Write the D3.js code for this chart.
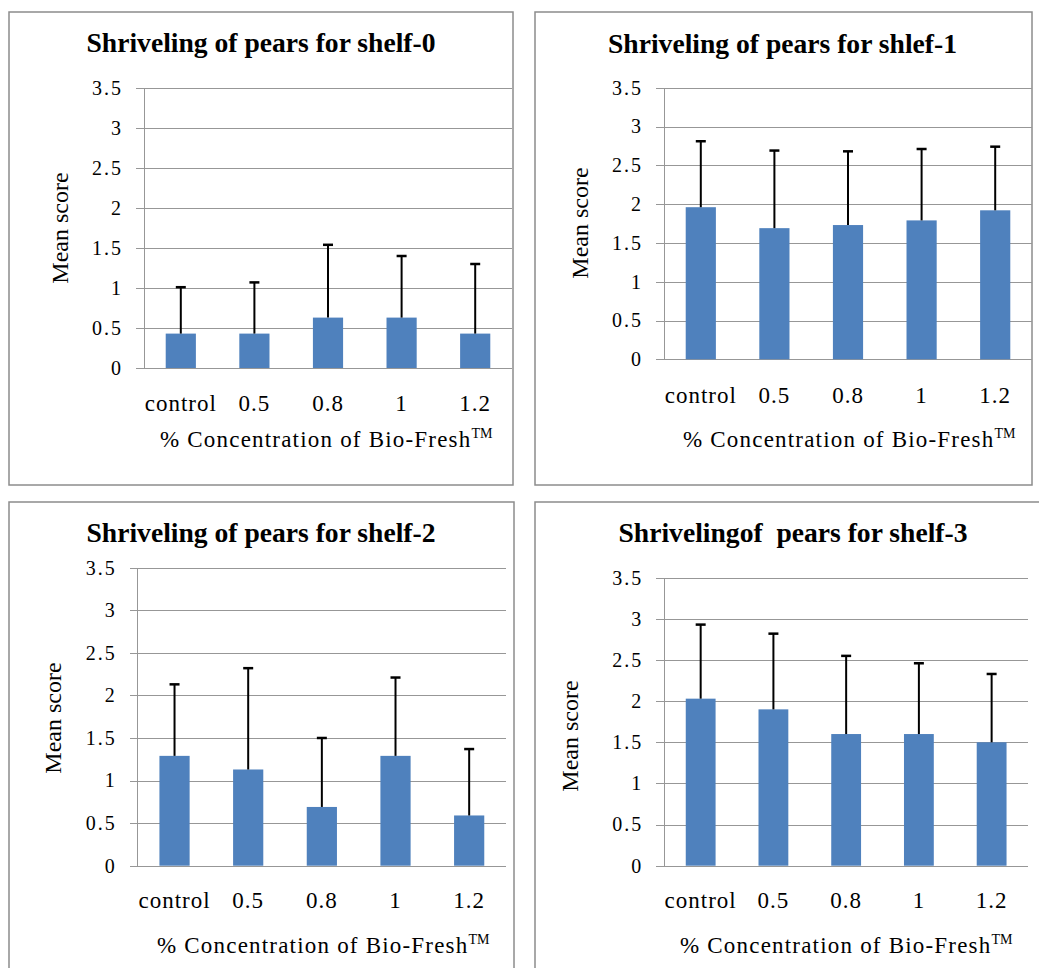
<!DOCTYPE html>
<html>
<head>
<meta charset="utf-8">
<script src="https://cdn.jsdelivr.net/npm/d3@7"></script>
<style>
  html, body { margin: 0; padding: 0; background: #ffffff; }
  svg { display: block; }
</style>
</head>
<body>
<svg id="chart" width="1039" height="968"></svg>
<script>
// ---------------- data ----------------
const categories = ["control", "0.5", "0.8", "1", "1.2"];
const yTickValues = [0, 0.5, 1, 1.5, 2, 2.5, 3, 3.5];
const yTickLabels = ["0", "0.5", "1", "1.5", "2", "2.5", "3", "3.5"];
const titles = [
  "Shriveling of pears for shelf-0",
  "Shriveling of pears for shlef-1",
  "Shriveling of pears for shelf-2",
  "Shrivelingof  pears for shelf-3"
];
const yAxisTitle = "Mean score";
const xAxisTitle = "% Concentration of Bio-Fresh";
const xAxisTitleSup = "TM";

const meanShelf0 = [0.43, 0.43, 0.63, 0.63, 0.43];
const sdShelf0   = [0.58, 0.64, 0.91, 0.77, 0.87];
const meanShelf1 = [1.96, 1.69, 1.73, 1.79, 1.92];
const sdShelf1   = [0.85, 1.00, 0.95, 0.92, 0.82];
const meanShelf2 = [1.29, 1.13, 0.69, 1.29, 0.59];
const sdShelf2   = [0.84, 1.19, 0.81, 0.92, 0.78];
const meanShelf3 = [2.03, 1.90, 1.60, 1.60, 1.50];
const sdShelf3   = [0.90, 0.92, 0.95, 0.86, 0.83];

const means = [meanShelf0, meanShelf1, meanShelf2, meanShelf3];
const sds = [sdShelf0, sdShelf1, sdShelf2, sdShelf3];

// ---------------- layout ----------------
const layouts = [
  { frame: [9, 12, 513, 485],  x0: 144,   x1: 512,  yBot: 368,   yTop: 88,
    titleX: 261, titleY: 52, ylabX: 68, ylabY: 228, xlabY: 411, xtitX: 160, xtitY: 447 },
  { frame: [535, 12, 1032, 485], x0: 664, x1: 1032, yBot: 359.3, yTop: 87.7,
    titleX: 782.5, titleY: 53, ylabX: 588, ylabY: 223, xlabY: 403, xtitX: 683, xtitY: 447 },
  { frame: [9, 502, 514, 1000], x0: 137.7, x1: 506, yBot: 865.7, yTop: 567.7,
    titleX: 261, titleY: 542, ylabX: 61, ylabY: 718, xlabY: 908, xtitX: 157, xtitY: 953 },
  { frame: [535, 502, 1050, 1000], x0: 664.3, x1: 1028, yBot: 865.7, yTop: 577.7,
    titleX: 793, titleY: 542, ylabX: 578, ylabY: 736, xlabY: 908, xtitX: 680, xtitY: 953 }
];

const BAR = "#4F81BD";
const GRID = "#979797";
const FRAME = "#8c8c8c";
const SERIF = "'Liberation Serif', 'Times New Roman', serif";

const svg = d3.select("#chart");

layouts.forEach((L, i) => {
  const g = svg.append("g");

  // frame
  g.append("rect")
    .attr("x", L.frame[0]).attr("y", L.frame[1])
    .attr("width", L.frame[2] - L.frame[0]).attr("height", L.frame[3] - L.frame[1])
    .attr("fill", "#fff").attr("stroke", FRAME).attr("stroke-width", 1.5);

  const x = d3.scaleBand().domain(categories).range([L.x0, L.x1])
    .paddingInner(0.59).paddingOuter(0.295);
  const y = d3.scaleLinear().domain([0, 3.5]).range([L.yBot, L.yTop]);

  // y axis with gridlines
  const w = L.x1 - L.x0;
  const yAxis = d3.axisLeft(y).tickValues(yTickValues)
    .tickFormat((d, k) => yTickLabels[k])
    .tickSizeInner(w + 8).tickSizeOuter(0).tickPadding(13);
  const ya = g.append("g").attr("transform", `translate(${L.x1},0)`).call(yAxis);
  ya.select(".domain").remove();
  ya.selectAll(".tick line").attr("stroke", GRID).attr("stroke-width", 1).attr("shape-rendering", "crispEdges");
  ya.selectAll(".tick text")
    .attr("fill", "#000").style("font-family", SERIF).style("font-size", "20px")
    .style("letter-spacing", "2px");

  // vertical axis line
  g.append("line")
    .attr("x1", L.x0).attr("x2", L.x0).attr("y1", y(0)).attr("y2", y(3.5))
    .attr("stroke", GRID).attr("stroke-width", 1).attr("shape-rendering", "crispEdges");

  // x axis labels
  const xAxis = d3.axisBottom(x).tickSize(0);
  const xa = g.append("g").attr("transform", `translate(0,${L.yBot})`).call(xAxis);
  xa.select(".domain").remove();
  xa.selectAll(".tick text")
    .attr("y", L.xlabY - L.yBot).attr("dy", null)
    .attr("fill", "#000").style("font-family", SERIF).style("font-size", "23px")
    .style("letter-spacing", "1px");

  const rows = categories.map((c, k) => ({ c, m: means[i][k], s: sds[i][k] }));

  // bars
  g.append("g").selectAll("rect").data(rows).join("rect")
    .attr("x", d => x(d.c)).attr("width", x.bandwidth())
    .attr("y", d => y(d.m)).attr("height", d => y(0) - y(d.m))
    .attr("fill", BAR);

  // error bars (upper only)
  const eb = g.append("g").selectAll("g").data(rows).join("g");
  eb.append("line")
    .attr("x1", d => x(d.c) + x.bandwidth() / 2).attr("x2", d => x(d.c) + x.bandwidth() / 2)
    .attr("y1", d => y(d.m)).attr("y2", d => y(d.m + d.s))
    .attr("stroke", "#000").attr("stroke-width", 2);
  eb.append("line")
    .attr("x1", d => x(d.c) + x.bandwidth() / 2 - 5).attr("x2", d => x(d.c) + x.bandwidth() / 2 + 5)
    .attr("y1", d => y(d.m + d.s)).attr("y2", d => y(d.m + d.s))
    .attr("stroke", "#000").attr("stroke-width", 2.5);

  // title
  g.append("text")
    .attr("x", L.titleX).attr("y", L.titleY).attr("text-anchor", "middle")
    .style("font-family", SERIF).style("font-weight", "bold").style("font-size", "27.6px")
    .style("white-space", "pre")
    .text(titles[i]);

  // y axis title
  g.append("text")
    .attr("transform", `translate(${L.ylabX},${L.ylabY}) rotate(-90)`)
    .attr("text-anchor", "middle")
    .style("font-family", SERIF).style("font-size", "24px")
    .text(yAxisTitle);

  // x axis title
  const xt = g.append("text")
    .attr("x", L.xtitX).attr("y", L.xtitY)
    .style("font-family", SERIF).style("font-size", "23px").style("letter-spacing", "1.2px");
  xt.append("tspan").text(xAxisTitle);
  xt.append("tspan").attr("dy", -9).style("font-size", "14px").style("letter-spacing", "0px").text(xAxisTitleSup);
});
</script>
</body>
</html>
